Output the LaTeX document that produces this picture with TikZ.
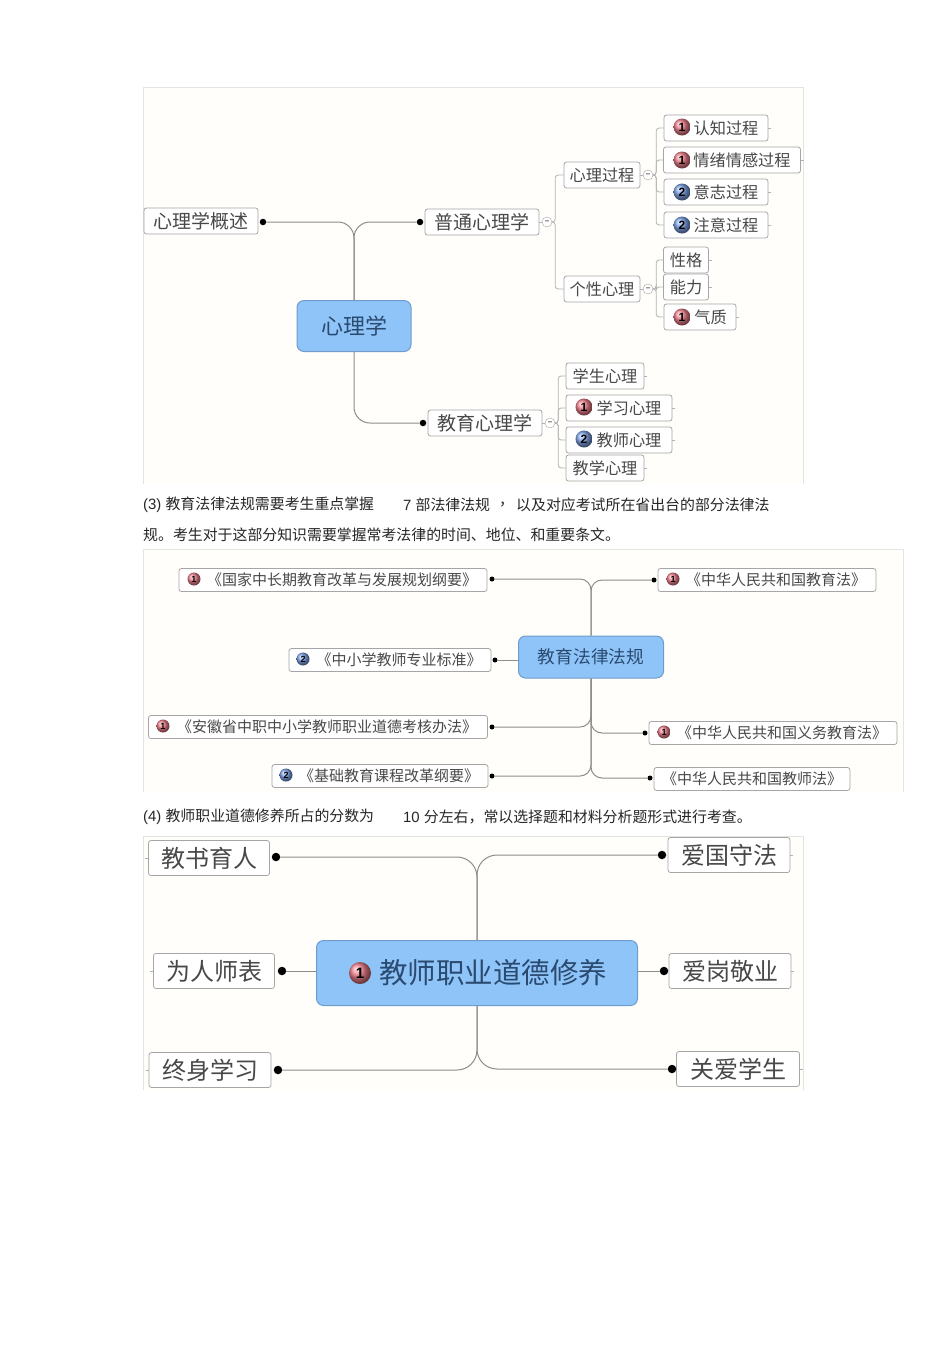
\documentclass[tikz,border=0pt]{standalone}
\usepackage{fontspec}
\setmainfont{Liberation Sans}
\newfontfamily\cjk{Noto Sans CJK SC}
\newcommand{\gap}[1]{\hspace*{#1pt}}
\definecolor{paper}{HTML}{FFFEFA}
\definecolor{edge}{HTML}{E4E4E0}
\definecolor{wire}{HTML}{8E8E88}
\definecolor{ink}{HTML}{484848}
\definecolor{sky}{HTML}{8FC4F8}
\definecolor{skyedge}{HTML}{6F9CCB}
\definecolor{navy}{HTML}{2A4A70}
\definecolor{rosy}{HTML}{F0808C}
\definecolor{azure}{HTML}{7FA4E8}
\tikzset{
  box/.style={draw=black!35,line width=0.8pt,rounded corners=2.5pt,fill=white,text=ink,inner sep=0pt},
  leafa/.style={box,minimum height=26pt,font=\cjk\fontsize{16.2}{19}\selectfont},
  branch/.style={box,minimum height=26pt,font=\cjk\fontsize{19}{22}\selectfont},
  leafb/.style={box,minimum height=23pt,font=\cjk\fontsize{15}{18}\selectfont},
  leafc/.style={box,minimum height=35pt,font=\cjk\fontsize{24}{28}\selectfont},
  rootbox/.style={draw=skyedge,line width=1pt,rounded corners=7pt,fill=sky,text=navy,inner sep=0pt},
  trunk/.style={draw=wire,line width=1pt,rounded corners=16pt},
  twig/.style={draw=black!30,line width=0.8pt,rounded corners=3pt},
  dot/.style={circle,fill=black,inner sep=0pt,minimum size=#1},
  fold/.style={circle,draw=black!35,fill=white,text=ink,inner sep=0pt,minimum size=10pt,font=\bfseries\fontsize{8}{8}\selectfont},
  badge/.style={circle,inner sep=0pt,minimum size=#1,shading=ball,text=black},
  one/.style={badge=#1,ball color=rosy},
  two/.style={badge=#1,ball color=azure},
  numa/.style={font=\bfseries\fontsize{12}{12}\selectfont},
  numb/.style={font=\bfseries\fontsize{9}{9}\selectfont},
  numc/.style={font=\bfseries\fontsize{15}{15}\selectfont},
  para/.style={anchor=west,inner sep=0pt,text=black!85,font=\fontsize{14.9}{18}\selectfont},
  panel/.style={fill=paper},
  rim/.style={draw=edge,line width=0.8pt}
}
\begin{document}
\begin{tikzpicture}[x=1pt,y=-1pt]
\useasboundingbox[fill=white] (0,0) rectangle (950,1345);

% panels
\fill[panel] (143,87) rectangle (803,484);
\draw[rim] (143,484) |- (803,87) -- (803,484);
\fill[panel] (143,549) rectangle (903,792);
\draw[rim] (143,792) |- (903,549) -- (903,792);
\fill[panel] (143,836) rectangle (803,1090);
\draw[rim] (143,1090) |- (803,836) -- (803,1090);

% psychology map
\node[rootbox,minimum width=114pt,minimum height=51pt,font=\cjk\fontsize{22}{26}\selectfont] (xl) at (354,326) {心理学};
\foreach \name/\px/\py/\bw/\txt in {gs/201/221/114/心理学概述,pt/482/222/114/普通心理学,jy/485/423/114/教育心理学}
  \node[branch,minimum width=\bw pt] (\name) at (\px,\py) {\txt};
\foreach \name/\px/\py in {gsd/263/222,ptd/420/222,jyd/423/423}
  \node[dot=6.5pt] (\name) at (\px,\py) {};
\foreach \name/\px/\py/\bw/\txt in {
    gc/602/175/76/心理过程,gx/602/289/76/个性心理,
    rz/716/128/104/\gap{20}认知过程,qx/732/160/137/\gap{20}情绪情感过程,
    yz/716/192/104/\gap{20}意志过程,zy/716/225/104/\gap{20}注意过程,
    xg/686/260/45/性格,nl/686/287/45/能力,qz/700/317/72/\gap{21}气质,
    xs/605/376/78/学生心理,xx/619/408/106/\gap{20}学习心理,
    js/619/440/106/\gap{20}教师心理,jx/605/468/78/教学心理}
  \node[leafa,minimum width=\bw pt] (\name) at (\px,\py) {\txt};
\foreach \name/\px/\py in {fa/547/222,fb/550/423,fc/648/175,fd/648/289}
  \node[fold] (\name) at (\px,\py) {--};
\foreach \name/\px/\py in {ba/682/127,bb/682/160,be/682/317,bf/584/407}
  \node[one=17pt,numa] (\name) at (\px,\py) {1};
\foreach \name/\px/\py in {bc/682/192,bd/682/225,bg/584/439}
  \node[two=17pt,numa] (\name) at (\px,\py) {2};
\draw[trunk] (xl) |- (gsd);
\draw[trunk] (xl) |- (ptd);
\draw[trunk] (xl) |- (jyd);
\foreach \from/\to in {pt/fa,jy/fb,gc/fc,gx/fd}
  \draw[twig] (\from.east) -- (\to.west);
\foreach \from/\to in {fa/gc,fa/gx,fc/rz,fc/qx,fc/yz,fc/zy,fd/xg,fd/nl,fd/qz,fb/xs,fb/xx,fb/js,fb/jx}
  \draw[twig] (\from.east) -- ++(3,0) |- (\to.west);
\foreach \name in {rz,qx,yz,zy,xg,nl,qz,xs,xx,js,jx}{
  \coordinate (\name t) at ([xshift=3pt]\name.east);
  \draw[twig] (\name.east) -- (\name t);
}

% text between the maps
\node[para] (ta) at (143,505) {(3) {\cjk 教育法律法规需要考生重点掌握}};
\node[para] (tb) at (403,505) {7 {\cjk 部法律法规}};
\node[para] (tc) at (499,505) {{\cjk ，}};
\node[para] (td) at (516,505) {{\cjk 以及对应考试所在省出台的部分法律法}};
\node[para] (te) at (143,535) {{\cjk 规。考生对于这部分知识需要掌握常考法律的时间、地位、和重要条文。}};
\node[para] (tf) at (143,817) {(4) {\cjk 教师职业道德修养所占的分数为}};
\node[para] (tg) at (403,817) {10 {\cjk 分左右，常以选择题和材料分析题形式进行考查。}};

% law map
\node[rootbox,minimum width=145pt,minimum height=42pt,font=\cjk\fontsize{17.7}{21}\selectfont] (fg) at (591,657) {教育法律法规};
\foreach \name/\px/\py/\bw/\txt in {
    gj/333/580/308/\gap{18}《国家中长期教育改革与发展规划纲要》,
    zx/390/660/202/\gap{18}《中小学教师专业标准》,
    ah/318/727/339/\gap{18}《安徽省中职中小学教师职业道德考核办法》,
    jc/380/776/216/\gap{18}《基础教育课程改革纲要》,
    jyf/767/580/218/\gap{18}《中华人民共和国教育法》,
    yw/773/733/248/\gap{18}《中华人民共和国义务教育法》,
    jsf/752/779/196/《中华人民共和国教师法》}
  \node[leafb,minimum width=\bw pt] (\name) at (\px,\py) {\txt};
\foreach \name/\px/\py in {gjd/492/579,ahd/492/727,jcd/492/776,jyfd/654/580,ywd/645/733,jsfd/650/778,zxd/495/660}
  \node[dot=5pt] (\name) at (\px,\py) {};
\foreach \name/\px/\py in {ca/194/579,cc/163/726,ce/673/579,cf/664/732}
  \node[one=13pt,numb] (\name) at (\px,\py) {1};
\foreach \name/\px/\py in {cb/303/659,cd/286/775}
  \node[two=13pt,numb] (\name) at (\px,\py) {2};
\foreach \name in {gjd,ahd,jcd,jyfd,ywd,jsfd}
  \draw[trunk,rounded corners=11pt] (fg) |- (\name);
\draw[trunk] (fg.west |- zxd) -- (zxd);

% ethics map
\node[rootbox,minimum width=321pt,minimum height=65pt,font=\cjk\fontsize{28.5}{33}\selectfont] (dd) at (477,973) {\gap{32}教师职业道德修养};
\node[one=22pt,numc] (ch) at (360,973) {1};
\foreach \name/\px/\py/\bw/\txt in {
    jsy/209/858/121/教书育人,wr/214/971/121/为人师表,zs/210/1070/122/终身学习,
    ag/729/855/122/爱国守法,aj/730/971/122/爱岗敬业,ga/738/1069/123/关爱学生}
  \node[leafc,minimum width=\bw pt] (\name) at (\px,\py) {\txt};
\foreach \name/\px/\py in {jsyd/276/857,wrd/282/971,zsd/278/1070,agd/662/855,ajd/664/971,gad/672/1069}
  \node[dot=8.5pt] (\name) at (\px,\py) {};
\foreach \name in {jsyd,zsd,agd,gad}
  \draw[trunk,rounded corners=20pt] (dd) |- (\name);
\draw[trunk] (dd.west |- wrd) -- (wrd);
\draw[trunk] (dd.east |- ajd) -- (ajd);
\foreach \name in {jsy,wr,zs}{
  \coordinate (\name t) at ([xshift=-3pt]\name.west);
  \draw[twig] (\name.west) -- (\name t);
}
\foreach \name in {ag,aj,ga}{
  \coordinate (\name t) at ([xshift=3pt]\name.east);
  \draw[twig] (\name.east) -- (\name t);
}
\end{tikzpicture}
\end{document}
